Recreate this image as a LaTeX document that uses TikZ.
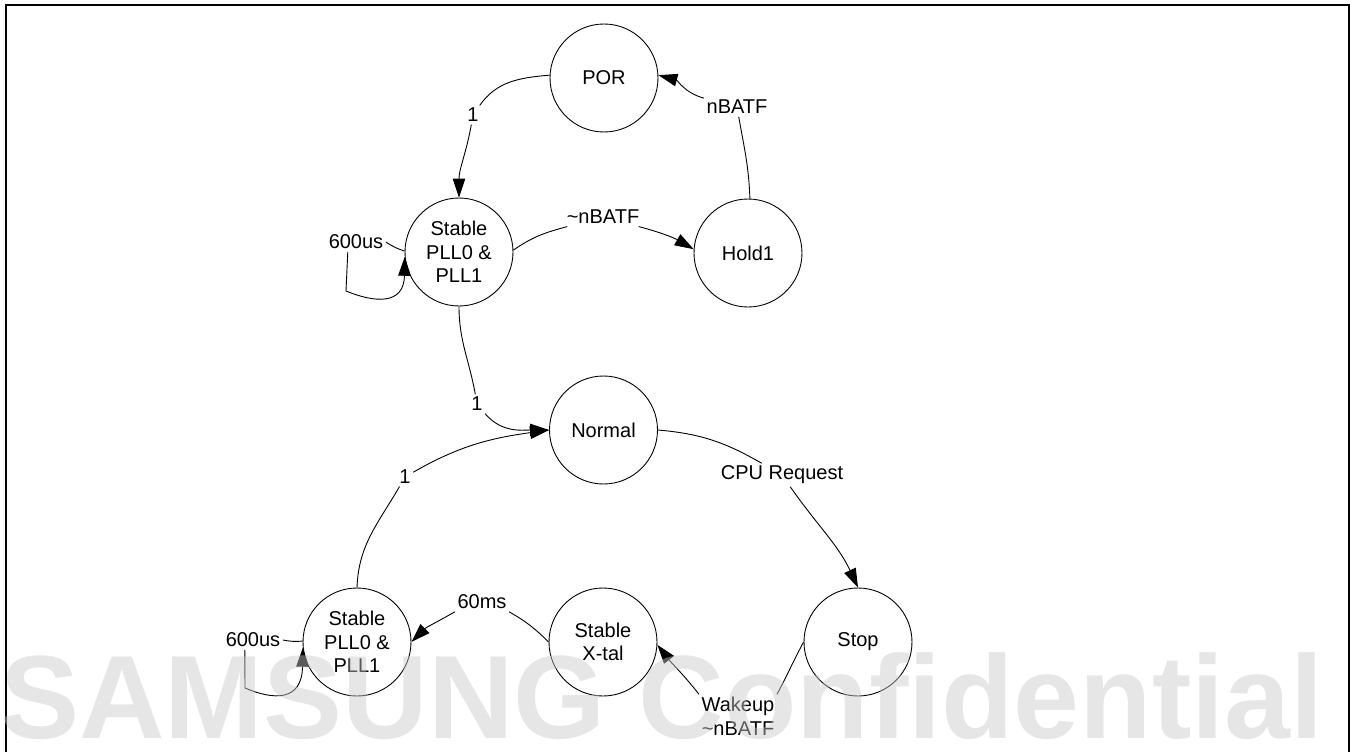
\documentclass[tikz,border=0pt]{standalone}
\usepackage{fontspec}
\setmainfont{Liberation Sans}
\usetikzlibrary{arrows.meta}
\definecolor{wmgray}{RGB}{200,200,200}
\begin{document}
\begin{tikzpicture}[x=1pt,y=1pt,
  state/.style={circle,draw,line width=0.9pt,minimum size=108pt,inner sep=0pt,
    align=center,font=\fontsize{20}{23.5}\selectfont},
  lbl/.style={inner sep=2.5pt,align=center,font=\fontsize{20}{23.5}\selectfont},
  arr/.style={line width=0.9pt,-{Triangle[length=19pt,width=12.5pt]}},
  frame/.style={line width=2pt}]
\useasboundingbox (0,0) rectangle (1353,-752);
% page frame (open at the bottom)
\draw[frame] (6,-752) -- (6,-5) -- (1348.5,-5) -- (1348.5,-752);

% states
\node[state] (por)  at (604,-78)    {POR};
\node[state] (st1)  at (459,-252)   {Stable\\PLL0 \&\\PLL1};
\node[state] (hold) at (748,-253)   {Hold1};
\node[state] (nor)  at (603.5,-430) {Normal};
\node[state] (st2)  at (357,-642)   {Stable\\PLL0 \&\\PLL1};
\node[state] (xtal) at (603,-642)   {Stable\\X-tal};
\node[state] (stop) at (858,-642)   {Stop};

% transition labels
\node[lbl] (l1)  at (473,-115) {1};
\node[lbl] (l2)  at (737,-107) {nBATF};
\node[lbl] (l3)  at (603,-217) {\textasciitilde nBATF};
\node[lbl] (l4)  at (356,-242) {600us};
\node[lbl] (l5)  at (477,-404) {1};
\node[lbl] (l6)  at (405,-477) {1};
\node[lbl] (l7)  at (782,-475) {CPU Request};
\node[lbl] (l8)  at (738,-716) {Wakeup\\\textasciitilde nBATF};
\node[lbl] (l9)  at (482,-602) {60ms};
\node[lbl] (l10) at (253,-640) {600us};

% transitions
\draw[arr] (por.177) to[out=185,in=55] (l1) (l1) to[out=-100,in=90] (st1.north);
\draw[arr] (hold.88) to[out=92,in=-80] (l2) (l2) to[out=165,in=-15] (por.3);
\draw[arr] (st1.2) to[out=35,in=195] (l3) (l3) to[out=-15,in=150] (hold.176);
\draw[arr] (st1.179) to[bend left=8] (l4.east) (l4.-130) -- (346,-291)
  .. controls (375,-303) and (404,-305) .. (st1.185);
\draw[arr] (st1.south) to[out=-90,in=100] (l5) (l5) to[out=-50,in=180] (nor.west);
\draw[arr] (st2.north) to[out=88,in=240] (l6) (l6) to[out=30,in=188] (nor.west);
\draw[arr] (nor.east) to[out=-5,in=150] (l7) (l7) to[out=-55,in=115] (stop.north);
\draw[arr] (stop.west) to[out=-118,in=62] (l8.north east)
  (l8.north west) to[out=128,in=-52] (xtal.-3);
\draw[arr] (xtal.west) to[out=135,in=-30] (l9.south east)
  (l9.south west) to[out=-150,in=45] (st2.east);
\draw[arr] (st2.179) to[bend left=8] (l10.east) (l10.-130) -- (245,-688)
  .. controls (273,-700) and (302,-702) .. (st2.186);

% watermark over the whole sheet
\node[anchor=base west,inner sep=0pt,text=wmgray,text opacity=0.45,
  font=\fontsize{118.5}{118.5}\selectfont\bfseries] (wm) at (0,-738) {SAMSUNG Confidential};
\end{tikzpicture}
\end{document}
